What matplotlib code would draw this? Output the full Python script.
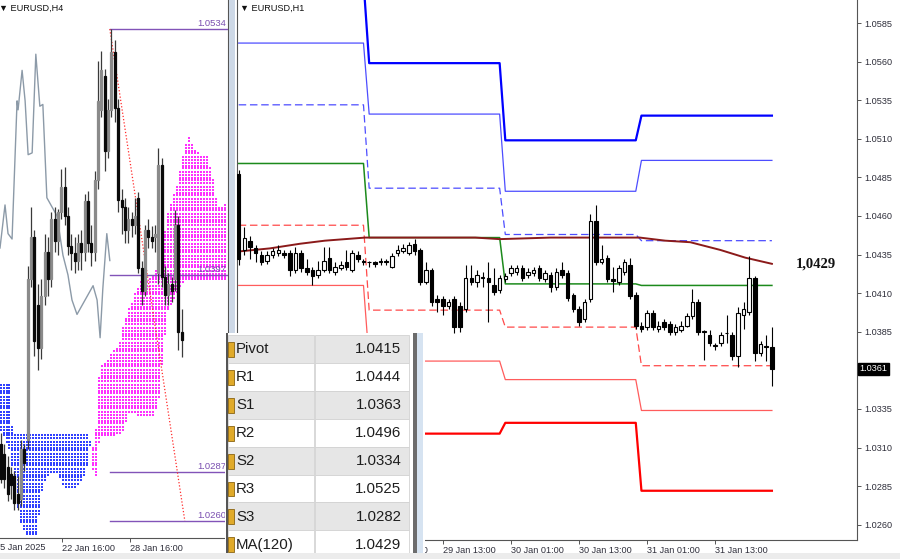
import numpy as np
import matplotlib
matplotlib.use("Agg")
import matplotlib.pyplot as plt
import matplotlib.transforms as mtransforms
from matplotlib.patches import Rectangle

plt.rcParams["font.family"] = ["Liberation Sans", "DejaVu Sans"]

# ── EURUSD H1 (right panel) ─────────────────────────────────────────────────
H1_OPEN = [1.0487, 1.0438, 1.0444, 1.0439, 1.0435, 1.0431, 1.0435, 1.0436, 1.0436, 1.0436,
           1.0425, 1.0436, 1.0426, 1.0425, 1.0422, 1.0425, 1.0433, 1.0424, 1.0426, 1.0430,
           1.0425, 1.0435, 1.0431, 1.0430, 1.0430, 1.0430, 1.0431, 1.0427, 1.0436, 1.0437,
           1.0436, 1.0442, 1.0438, 1.0417, 1.0425, 1.0406, 1.0406, 1.0402, 1.0406, 1.0402,
           1.0400, 1.0420, 1.0417, 1.0420, 1.0420, 1.0415, 1.0412, 1.0419, 1.0423, 1.0424,
           1.0426, 1.0422, 1.0423, 1.0426, 1.0419, 1.0422, 1.0414, 1.0425, 1.0423, 1.0409,
           1.0400, 1.0393, 1.0406, 1.0457, 1.0430, 1.0433, 1.0419, 1.0417, 1.0424, 1.0428,
           1.0409, 1.0389, 1.0388, 1.0397, 1.0387, 1.0391, 1.0390, 1.0385, 1.0386, 1.0389,
           1.0395, 1.0404, 1.0385, 1.0383, 1.0376, 1.0378, 1.0384, 1.0383, 1.0369, 1.0396,
           1.0398, 1.0420, 1.0371, 1.0376, 1.0375]
H1_HIGH = [1.0490, 1.0453, 1.0447, 1.0441, 1.0437, 1.0437, 1.0439, 1.0441, 1.0438, 1.0438,
           1.0440, 1.0438, 1.0432, 1.0427, 1.0431, 1.0440, 1.0440, 1.0430, 1.0431, 1.0438,
           1.0438, 1.0437, 1.0432, 1.0431, 1.0431, 1.0433, 1.0432, 1.0436, 1.0441, 1.0442,
           1.0443, 1.0445, 1.0439, 1.0430, 1.0426, 1.0409, 1.0408, 1.0406, 1.0408, 1.0404,
           1.0428, 1.0428, 1.0425, 1.0424, 1.0430, 1.0426, 1.0422, 1.0423, 1.0428, 1.0428,
           1.0428, 1.0426, 1.0427, 1.0428, 1.0425, 1.0424, 1.0426, 1.0430, 1.0425, 1.0410,
           1.0402, 1.0406, 1.0461, 1.0467, 1.0441, 1.0435, 1.0427, 1.0428, 1.0432, 1.0433,
           1.0411, 1.0391, 1.0399, 1.0399, 1.0392, 1.0393, 1.0392, 1.0390, 1.0392, 1.0397,
           1.0413, 1.0406, 1.0386, 1.0386, 1.0378, 1.0385, 1.0396, 1.0385, 1.0401, 1.0404,
           1.0434, 1.0421, 1.0379, 1.0383, 1.0388]
H1_LOW = [1.0428, 1.0435, 1.0432, 1.0430, 1.0428, 1.0429, 1.0433, 1.0434, 1.0433, 1.0421,
          1.0423, 1.0424, 1.0422, 1.0415, 1.0420, 1.0424, 1.0423, 1.0422, 1.0425, 1.0425,
          1.0424, 1.0430, 1.0428, 1.0427, 1.0427, 1.0428, 1.0428, 1.0426, 1.0434, 1.0436,
          1.0435, 1.0435, 1.0415, 1.0416, 1.0402, 1.0398, 1.0396, 1.0400, 1.0384, 1.0385,
          1.0398, 1.0415, 1.0414, 1.0414, 1.0391, 1.0409, 1.0410, 1.0417, 1.0421, 1.0422,
          1.0418, 1.0420, 1.0421, 1.0418, 1.0417, 1.0411, 1.0412, 1.0420, 1.0405, 1.0398,
          1.0389, 1.0391, 1.0404, 1.0428, 1.0429, 1.0417, 1.0411, 1.0415, 1.0422, 1.0406,
          1.0387, 1.0385, 1.0386, 1.0386, 1.0385, 1.0386, 1.0383, 1.0383, 1.0385, 1.0388,
          1.0393, 1.0383, 1.0367, 1.0376, 1.0373, 1.0376, 1.0378, 1.0367, 1.0362, 1.0387,
          1.0396, 1.0366, 1.0369, 1.0366, 1.0350]
H1_CLOSE = [1.0432, 1.0446, 1.0440, 1.0436, 1.0430, 1.0435, 1.0437, 1.0438, 1.0435, 1.0425,
            1.0436, 1.0426, 1.0424, 1.0421, 1.0425, 1.0431, 1.0425, 1.0427, 1.0428, 1.0427,
            1.0436, 1.0432, 1.0430, 1.0430, 1.0429, 1.0431, 1.0430, 1.0434, 1.0438, 1.0439,
            1.0441, 1.0437, 1.0417, 1.0425, 1.0404, 1.0404, 1.0402, 1.0404, 1.0388, 1.0388,
            1.0420, 1.0417, 1.0422, 1.0420, 1.0417, 1.0411, 1.0420, 1.0421, 1.0426, 1.0426,
            1.0420, 1.0424, 1.0425, 1.0420, 1.0423, 1.0414, 1.0424, 1.0422, 1.0407, 1.0400,
            1.0391, 1.0404, 1.0457, 1.0430, 1.0432, 1.0419, 1.0418, 1.0426, 1.0430, 1.0408,
            1.0389, 1.0387, 1.0397, 1.0388, 1.0389, 1.0388, 1.0385, 1.0388, 1.0389, 1.0395,
            1.0404, 1.0385, 1.0385, 1.0378, 1.0376, 1.0383, 1.0384, 1.0369, 1.0397, 1.0400,
            1.0420, 1.0371, 1.0377, 1.0375, 1.0361]

# daily pivot levels (28, 29, 30, 31 Jan) and number of H1 bars per day
DAY_LEN = [23, 24, 24, 24]
R3 = [1.0612, 1.0559, 1.0509, 1.0525]
R2 = [1.0572, 1.0526, 1.0476, 1.0496]
R1 = [1.0532, 1.0478, 1.0448, 1.0444]
PIVOT = [1.0494, 1.0446, 1.0416, 1.0415]
S1 = [1.0454, 1.0399, 1.0388, 1.0363]
S2 = [1.0415, 1.0366, 1.0354, 1.0334]
S3 = [1.0375, 1.0319, 1.0326, 1.0282]

MA_BAR = [0, 5.5, 10.8, 15.2, 22.3, 32, 41.7, 46, 55, 64, 70.7, 75.2, 79.6, 84.9, 89.3, 94]
MA_VAL = [1.0437, 1.0439, 1.0442, 1.0444, 1.0446, 1.0446, 1.0446, 1.0445, 1.0446, 1.0446,
          1.0446, 1.0444, 1.0443, 1.0438, 1.0433, 1.0429]

H1_TICK_BARS = [24, 36, 48, 60, 72, 84]
H1_TICK_LABELS = ["29 Jan 01:00", "29 Jan 13:00", "30 Jan 01:00",
                  "30 Jan 13:00", "31 Jan 01:00", "31 Jan 13:00"]
H1_YTICKS = [1.0260, 1.0285, 1.0310, 1.0335, 1.0360, 1.0385, 1.0410, 1.0435,
             1.0460, 1.0485, 1.0510, 1.0535, 1.0560, 1.0585]
LAST_PRICE = 1.0361
MA_NOW = 1.0429

# ── EURUSD H4 (left panel) ──────────────────────────────────────────────────
H4_OPEN = [1.0303, 1.0297, 1.0290, 1.0286, 1.0285, 1.0275, 1.0272, 1.0300, 1.0305, 1.0395,
           1.0418, 1.0380, 1.0356, 1.0385, 1.0410, 1.0395, 1.0428, 1.0416, 1.0432, 1.0446,
           1.0430, 1.0413, 1.0409, 1.0405, 1.0415, 1.0410, 1.0438, 1.0415, 1.0410, 1.0450,
           1.0489, 1.0508, 1.0466, 1.0489, 1.0521, 1.0490, 1.0439, 1.0435, 1.0422,
           1.0428, 1.0425, 1.0440, 1.0401, 1.0388, 1.0422, 1.0418, 1.0418, 1.0398, 1.0458,
           1.0396, 1.0386, 1.0392, 1.0395, 1.0425, 1.0365]
H4_HIGH = [1.0309, 1.0303, 1.0296, 1.0290, 1.0288, 1.0285, 1.0305, 1.0303, 1.0402, 1.0435,
           1.0422, 1.0392, 1.0395, 1.0420, 1.0418, 1.0432, 1.0435, 1.0434, 1.0456, 1.0457,
           1.0435, 1.0420, 1.0418, 1.0420, 1.0422, 1.0442, 1.0444, 1.0425, 1.0455, 1.0516,
           1.0522, 1.0512, 1.0495, 1.0534, 1.0528, 1.0495, 1.0445, 1.0440, 1.0435,
           1.0432, 1.0440, 1.0443, 1.0405, 1.0425, 1.0428, 1.0424, 1.0425, 1.0468, 1.0462,
           1.0402, 1.0398, 1.0396, 1.0433, 1.0430, 1.0378]
H4_LOW = [1.0281, 1.0278, 1.0271, 1.0272, 1.0266, 1.0266, 1.0268, 1.0288, 1.0300, 1.0390,
          1.0352, 1.0344, 1.0350, 1.0380, 1.0385, 1.0390, 1.0410, 1.0408, 1.0428, 1.0425,
          1.0408, 1.0400, 1.0398, 1.0400, 1.0400, 1.0405, 1.0410, 1.0402, 1.0405, 1.0445,
          1.0485, 1.0455, 1.0462, 1.0485, 1.0482, 1.0432, 1.0420, 1.0415, 1.0415,
          1.0418, 1.0420, 1.0398, 1.0380, 1.0385, 1.0412, 1.0412, 1.0410, 1.0392, 1.0390,
          1.0380, 1.0380, 1.0382, 1.0388, 1.0355, 1.0351]
H4_CLOSE = [1.0283, 1.0283, 1.0275, 1.0280, 1.0270, 1.0270, 1.0300, 1.0292, 1.0395, 1.0418,
            1.0360, 1.0356, 1.0385, 1.0410, 1.0395, 1.0428, 1.0416, 1.0432, 1.0446, 1.0430,
            1.0413, 1.0409, 1.0405, 1.0415, 1.0410, 1.0438, 1.0415, 1.0410, 1.0450, 1.0494,
            1.0511, 1.0466, 1.0489, 1.0521, 1.0490, 1.0439, 1.0435, 1.0422, 1.0428,
            1.0425, 1.0430, 1.0401, 1.0388, 1.0422, 1.0418, 1.0416, 1.0420, 1.0458, 1.0396,
            1.0386, 1.0392, 1.0388, 1.0425, 1.0365, 1.0361]

CHIKOU_BAR = [-0.3, 1.2, 2.1, 3.3, 4.8, 5.1, 6.3, 7.2, 8.1, 9.3, 10.4, 11.6, 12.5, 13.7,
              15.2, 16.7, 18.5, 20.0, 21.2, 22.7, 25.1, 27.5, 28.7, 29.6, 30.4, 31.6, 32.5]
CHIKOU_VAL = [1.0412, 1.0436, 1.0420, 1.0417, 1.0494, 1.0489, 1.0511, 1.0494, 1.0464,
              1.0465, 1.0520, 1.0491, 1.0492, 1.0440, 1.0435, 1.0430, 1.0408, 1.0397,
              1.0383, 1.0375, 1.0383, 1.0391, 1.0383, 1.0362, 1.0389, 1.0420, 1.0405]

CLOUD_BAR = [-0.3, 2.7, 3.6, 5.7, 7.8, 10.7, 12.5, 14.6, 16.7, 19.1, 22.1, 24.5, 26.0, 26.9,
             28.1, 29.6, 31.6, 33.4, 35.5, 36.4, 38.5, 41.5, 43.6, 45.9, 47.5, 48.4, 49.9,
             51.3, 52.8, 54.0, 54.9, 56.4, 57.9, 59.4, 61.8, 63.3, 64.8, 67.8]
SPAN_A = [1.0311, 1.0300, 1.0288, 1.0261, 1.0251, 1.0251, 1.0279, 1.0287, 1.0287, 1.0278,
          1.0278, 1.0283, 1.0290, 1.0305, 1.0298, 1.0346, 1.0349, 1.0354, 1.0359, 1.0368,
          1.0379, 1.0393, 1.0394, 1.0397, 1.0405, 1.0413, 1.0432, 1.0440, 1.0448, 1.0459,
          1.0468, 1.0474, 1.0468, 1.0465, 1.0463, 1.0452, 1.0435, 1.0437]
SPAN_B = [1.0337, 1.0337, 1.0309, 1.0309, 1.0309, 1.0309, 1.0309, 1.0309, 1.0309, 1.0309,
          1.0309, 1.0309, 1.0309, 1.0305, 1.0276, 1.0307, 1.0307, 1.0307, 1.0308, 1.0309,
          1.0320, 1.0319, 1.0319, 1.0319, 1.0329, 1.0351, 1.0376, 1.0381, 1.0388, 1.0391,
          1.0394, 1.0394, 1.0394, 1.0394, 1.0394, 1.0394, 1.0394, 1.0394]

FIB_LEVELS = [1.0534, 1.0397, 1.0287, 1.0260]
FIB_START_BAR = 32.5
ZIGZAG_BAR = [32.5, 54.9]
ZIGZAG_VAL = [1.0534, 1.0260]

H4_TICK_BARS = [18.2, 38.5]
H4_TICK_LABELS = ["22 Jan 16:00", "28 Jan 16:00"]

# ── summary table ───────────────────────────────────────────────────────────
TABLE_NAMES = ["Pivot", "R1", "S1", "R2", "S2", "R3", "S3", "MA(120)"]
TABLE_VALUES = ["1.0415", "1.0444", "1.0363", "1.0496", "1.0334", "1.0525", "1.0282", "1.0429"]

W, H = 900, 559
TXT = "#2e2e3a"


def draw_candles(ax, o, h, l, c, width, bull_face, bull_edge, bear, wick, lw):
    o, h, l, c = (np.asarray(v, dtype=float) for v in (o, h, l, c))
    x = np.arange(len(o))
    ax.vlines(x, l, h, color=wick, lw=lw, zorder=4)
    up = c >= o
    bottom = np.minimum(o, c)
    height = np.maximum(np.abs(c - o), 0.00002)
    ax.bar(x[up], height[up], width, bottom[up], facecolor=bull_face,
           edgecolor=bull_edge, linewidth=lw, zorder=5)
    ax.bar(x[~up], height[~up], width, bottom[~up], facecolor=bear,
           edgecolor=bear, linewidth=lw, zorder=5)


fig = plt.figure(figsize=(W / 100, H / 100), dpi=100)
fig.patch.set_facecolor("white")

# ── left panel: H4 ──────────────────────────────────────────────────────────
axl = fig.add_axes([0, 21 / H, 228 / W, 538 / H])
axl.set_xlim(-0.3, 67.8)
axl.set_ylim(1.02504, 1.05502)
for s in ("top", "left"):
    axl.spines[s].set_visible(False)
for s in ("right", "bottom"):
    axl.spines[s].set_color("#555555")
    axl.spines[s].set_linewidth(0.8)
axl.set_yticks([])

# kumo drawn as a dot texture between the two spans
px_x = np.arange(0.5, 228, 3.0)
px_y = np.arange(0.5, 538, 3.0)
gx, gy = np.meshgrid(px_x, px_y)
bx = (gx - 1) / 3.35
by = 1.05502 - gy / 538 * (1.05502 - 1.02504)
a = np.interp(bx, CLOUD_BAR, SPAN_A)
b = np.interp(bx, CLOUD_BAR, SPAN_B)
inside = (by > np.minimum(a, b)) & (by < np.maximum(a, b))
pink = inside & (a > b)
blue = inside & (a <= b)
axl.scatter(bx[pink], by[pink], s=0.7, marker="s", color="#ff30ff", linewidths=0, zorder=1)
axl.scatter(bx[blue], by[blue], s=0.7, marker="s", color="#3040ff", linewidths=0, zorder=1)

axl.plot(CHIKOU_BAR, CHIKOU_VAL, color="#8c9aa8", lw=1.0, zorder=2)
draw_candles(axl, H4_OPEN, H4_HIGH, H4_LOW, H4_CLOSE, 0.6,
             "#8a8a8a", "#8a8a8a", "#0a0a0a", "#3a3a3a", 0.9)

for lvl in FIB_LEVELS:
    axl.plot([FIB_START_BAR, 67.8], [lvl, lvl], color="#8253b8", lw=1.0, zorder=3)
    axl.text(67.3, lvl + 0.00005, f"{lvl:.4f}", ha="right", va="bottom",
             fontsize=6.8, color="#7a4fb0", zorder=6)
axl.plot(ZIGZAG_BAR, ZIGZAG_VAL, color="#ff2a2a", lw=0.9, ls=(0, (1, 1.6)), zorder=3)

axl.set_xticks(H4_TICK_BARS)
axl.set_xticklabels(H4_TICK_LABELS, ha="left", fontsize=6.6, color=TXT)
axl.tick_params(axis="x", length=3, width=0.7, color="#555555", pad=1.5)

# ── right panel: H1 ─────────────────────────────────────────────────────────
ax = fig.add_axes([237 / W, 19 / H, 620 / W, 540 / H])
ax.set_xlim(-0.3, 109.0)
ax.set_ylim(1.02501, 1.05999)
ax.spines["top"].set_visible(False)
for s in ("left", "right", "bottom"):
    ax.spines[s].set_color("#555555")
    ax.spines[s].set_linewidth(0.8)

bars = np.arange(len(H1_CLOSE))
pivot_styles = [
    (R3, "#0000ff", 1.6, "-"),
    (R2, "#4d4dff", 0.9, "-"),
    (R1, "#4d4dff", 0.9, (0, (6, 3))),
    (PIVOT, "#1c8a1c", 1.1, "-"),
    (S1, "#ff4a4a", 0.9, (0, (6, 3))),
    (S2, "#ff5c5c", 0.9, "-"),
    (S3, "#ff0000", 1.6, "-"),
]
for levels, col, lw, ls in pivot_styles:
    ax.plot(bars, np.repeat(levels, DAY_LEN), color=col, lw=lw, ls=ls, zorder=2)

ax.plot(MA_BAR, MA_VAL, color="#8b1a1a", lw=1.4, zorder=3)
draw_candles(ax, H1_OPEN, H1_HIGH, H1_LOW, H1_CLOSE, 0.62,
             "white", "black", "black", "black", 0.8)

ax.text(98.2, MA_NOW, f"{MA_NOW:.4f}".replace(".", ","), fontsize=10.5,
        fontweight="bold", family=["Liberation Serif", "DejaVu Serif"],
        va="center", ha="left", color="#111111")

ax.yaxis.tick_right()
ax.set_yticks(H1_YTICKS)
# the 1.0360 label sits under the last-price box, as in the terminal
ax.set_yticklabels(["" if abs(v - 1.0360) < 1e-6 else f"{v:.4f}" for v in H1_YTICKS],
                   fontsize=6.6, color=TXT)
ax.tick_params(axis="y", length=3, width=0.7, color="#555555", pad=2)
ax.set_xticks(H1_TICK_BARS)
ax.set_xticklabels(H1_TICK_LABELS, ha="left", fontsize=6.6, color=TXT)
ax.tick_params(axis="x", length=3, width=0.7, color="#555555", pad=1.5)

trans = mtransforms.blended_transform_factory(ax.transAxes, ax.transData)
ax.text(1.004, LAST_PRICE, f"{LAST_PRICE:.4f}", transform=trans, fontsize=6.6,
        color="white", va="center", ha="left", zorder=10,
        bbox=dict(boxstyle="square,pad=0.15", fc="black", ec="black"))

# first time label is mostly hidden behind the data window
clip = mtransforms.TransformedBbox(mtransforms.Bbox([[423 / W, 0], [1, 1]]), fig.transFigure)
lbl0 = ax.get_xticklabels()[0]
lbl0.set_clip_box(clip)
lbl0.set_clip_on(True)

# ── window chrome ───────────────────────────────────────────────────────────
def fig_rect(x0, y0, x1, y1, color, z=0.5):
    fig.patches.append(Rectangle((x0 / W, 1 - y1 / H), (x1 - x0) / W, (y1 - y0) / H,
                                 transform=fig.transFigure, facecolor=color,
                                 edgecolor="none", zorder=z))


fig_rect(229, 0, 235, 333, "#cdd8e6", z=3)
fig_rect(0, 553, 900, 559, "#ececec", z=0.2)
fig.text(-1 / W, 1 - 8 / H, "▼ EURUSD,H4", fontsize=6.6, va="center", color="#111111")
fig.text(240 / W, 1 - 8 / H, "▼ EURUSD,H1", fontsize=6.6, va="center", color="#111111")
fig.text(-5 / W, 1 - 547 / H, "15 Jan 2025", fontsize=6.6, va="center", color=TXT)

# ── data table overlay ─────────────────────────────────────────────────────
tab = fig.add_axes([225 / W, 0, 200 / W, 226 / H])
tab.set_xlim(225, 425)
tab.set_ylim(559, 333)
tab.axis("off")
tab.add_patch(Rectangle((225, 333), 200, 226, facecolor="white", edgecolor="none"))
tab.plot([227, 227], [333, 559], color="#333333", lw=1.2)
row_h = 27.9
for k, (name, val) in enumerate(zip(TABLE_NAMES, TABLE_VALUES)):
    top = 335 + k * row_h
    bg = "#e6e6e6" if k % 2 == 0 else "#ffffff"
    tab.add_patch(Rectangle((228, top), 86, row_h, facecolor=bg, edgecolor="#d2d2d2", lw=0.6))
    tab.add_patch(Rectangle((314.5, top), 94, row_h, facecolor=bg, edgecolor="#d2d2d2", lw=0.6))
    tab.add_patch(Rectangle((228, top + 7), 5.5, row_h - 13, facecolor="#e0aa2a",
                            edgecolor="#8a6412", lw=0.6))
    tab.text(236, top + row_h / 2 + 0.5, name, fontsize=10.8, va="center", ha="left",
             color="#1e1e1e")
    tab.text(401.5, top + row_h / 2 + 0.5, val, fontsize=10.8, va="center", ha="right",
             color="#1e1e1e")
tab.add_patch(Rectangle((412.5, 333), 4.5, 226, facecolor="#6c6c6c", edgecolor="none"))
tab.add_patch(Rectangle((417, 333), 6, 226, facecolor="#d6e3f1", edgecolor="none"))

fig.savefig("out.png", dpi=100)
